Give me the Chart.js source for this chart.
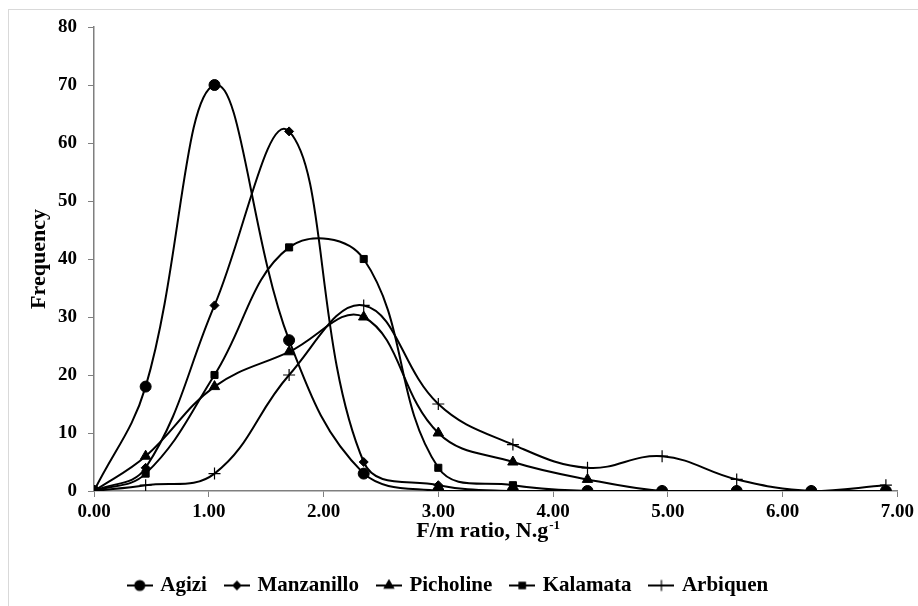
<!DOCTYPE html>
<html>
<head>
<meta charset="utf-8">
<script src="https://cdn.jsdelivr.net/npm/chart.js@4.4.1/dist/chart.umd.min.js"></script>
<style>
  html, body { margin: 0; padding: 0; background: #fff; }
  #wrap { position: relative; width: 918px; height: 606px; overflow: hidden; }
  #frame { position: absolute; left: 8px; top: 9px; width: 1000px; height: 700px;
           border-top: 1px solid #d9d9d9; border-left: 1px solid #d9d9d9; }
  #chart { position: absolute; left: 0; top: 0; }
</style>
</head>
<body>
<div id="wrap">
  <div id="frame"></div>
  <canvas id="chart" width="918" height="606"></canvas>
</div>
<script>
// F/m ratio classes (x) and frequency per cultivar
const fmRatio    = [0, 0.45, 1.05, 1.70, 2.35, 3.00, 3.65, 4.30, 4.95, 5.60, 6.25, 6.90];
const agizi      = [0, 18, 70, 26, 3, 0, 0, 0, 0, 0, 0, 0];
const manzanillo = [0, 4, 32, 62, 5, 1, 0, 0, 0, 0, 0, 0];
const picholine  = [0, 6, 18, 24, 30, 10, 5, 2, 0, 0, 0, 0];
const kalamata   = [0, 3, 20, 42, 40, 4, 1, 0, 0, 0, 0, 0];
const arbiquen   = [0, 1, 3, 20, 32, 15, 8, 4, 6, 2, 0, 1];

const seriesNames = ["Agizi", "Manzanillo", "Picholine", "Kalamata", "Arbiquen"];
const xTicks = [0, 1, 2, 3, 4, 5, 6, 7];
const yMax = 80;

const FONT = "'Liberation Serif', 'Times New Roman', serif";
const FS = 19;      // tick labels
const TITLE_FS = 22;
const LEGEND_FS = 21;

const styles = [
    { pointStyle: "circle",   radius: 5.5 },
    { pointStyle: "rectRot",  radius: 4.5 },
    { pointStyle: "triangle", radius: 6 },
    { pointStyle: "rect",     radius: 5 },
    { pointStyle: "cross",    radius: 6 }
];

function toPoints(arr) {
    return arr.map((v, i) => ({ x: fmRatio[i], y: v }));
}

// small line+marker image for the legend
function legendIcon(style) {
    const c = document.createElement("canvas");
    c.width = 26; c.height = 14;
    const g = c.getContext("2d");
    g.strokeStyle = "#000";
    g.fillStyle = "#000";
    g.lineWidth = 2;
    g.beginPath(); g.moveTo(0, 7); g.lineTo(26, 7); g.stroke();
    g.lineWidth = 1.2;
    Chart.helpers.drawPoint(g, { pointStyle: style.pointStyle, radius: style.radius * 0.9, rotation: 0, borderWidth: 1.2 }, 13, 7);
    return c;
}

const allData = [agizi, manzanillo, picholine, kalamata, arbiquen];

const datasets = allData.map((arr, i) => ({
    label: seriesNames[i],
    data: toPoints(arr),
    borderColor: "#000",
    backgroundColor: "#000",
    borderWidth: 2,
    pointStyle: styles[i].pointStyle,
    pointRadius: styles[i].radius,
    pointBorderWidth: styles[i].pointStyle === "cross" ? 1.2 : 1,
    pointBackgroundColor: "#000",
    pointBorderColor: "#000",
    tension: 0.4,
    fill: false
}));

// x axis title with superscript, drawn under the tick labels
const xTitlePlugin = {
    id: "xTitle",
    afterDraw(chart) {
        const ctx = chart.ctx;
        const area = chart.chartArea;
        const cx = (area.left + area.right) / 2 - 8;
        const y = area.bottom + 46;
        ctx.save();
        ctx.fillStyle = "#000";
        ctx.textBaseline = "alphabetic";
        ctx.font = "bold " + TITLE_FS + "px " + FONT;
        const main = "F/m ratio, N.g";
        const sup = "-1";
        const w1 = ctx.measureText(main).width;
        ctx.font = "bold 13px " + FONT;
        const w2 = ctx.measureText(sup).width;
        const x0 = cx - (w1 + w2) / 2;
        ctx.font = "bold " + TITLE_FS + "px " + FONT;
        ctx.textAlign = "left";
        ctx.fillText(main, x0, y);
        ctx.font = "bold 13px " + FONT;
        ctx.fillText(sup, x0 + w1 + 1, y - 8);
        ctx.restore();
    }
};

new Chart(document.getElementById("chart").getContext("2d"), {
    type: "line",
    data: { datasets: datasets },
    options: {
        responsive: false,
        animation: false,
        layout: { padding: { left: 0, right: 20, top: 27, bottom: 0 } },
        plugins: {
            tooltip: { enabled: false },
            legend: {
                position: "bottom",
                labels: {
                    usePointStyle: true,
                    pointStyleWidth: 20,
                    padding: 20,
                    color: "#000",
                    font: { family: FONT, size: LEGEND_FS, weight: "bold" },
                    generateLabels(chart) {
                        return chart.data.datasets.map((ds, i) => ({
                            text: ds.label,
                            pointStyle: legendIcon(styles[i]),
                            fillStyle: "#000",
                            strokeStyle: "#000",
                            lineWidth: 0,
                            hidden: false,
                            datasetIndex: i
                        }));
                    }
                }
            }
        },
        scales: {
            x: {
                type: "linear",
                min: 0,
                max: 7,
                afterBuildTicks(scale) { scale.ticks = xTicks.map(v => ({ value: v })); },
                afterFit(scale) { scale.height = 64; },
                ticks: {
                    color: "#000",
                    font: { family: FONT, size: FS, weight: "bold" },
                    padding: 4,
                    maxRotation: 0,
                    callback: v => Number(v).toFixed(2)
                },
                grid: { display: true, drawOnChartArea: false, drawTicks: true, tickLength: 6, color: "#7f7f7f" },
                border: { display: true, color: "#7f7f7f", width: 1.5 }
            },
            y: {
                min: 0,
                max: yMax,
                afterFit(scale) { scale.width = 94; },
                ticks: {
                    stepSize: 10,
                    color: "#000",
                    font: { family: FONT, size: FS, weight: "bold" },
                    padding: 11
                },
                title: {
                    display: true,
                    text: "Frequency",
                    color: "#000",
                    font: { family: FONT, size: TITLE_FS, weight: "bold" },
                    padding: { top: 26, bottom: 0 }
                },
                grid: { display: true, drawOnChartArea: false, drawTicks: true, tickLength: 6, color: "#7f7f7f" },
                border: { display: true, color: "#7f7f7f", width: 1.5 }
            }
        }
    },
    plugins: [xTitlePlugin]
});
</script>
</body>
</html>
